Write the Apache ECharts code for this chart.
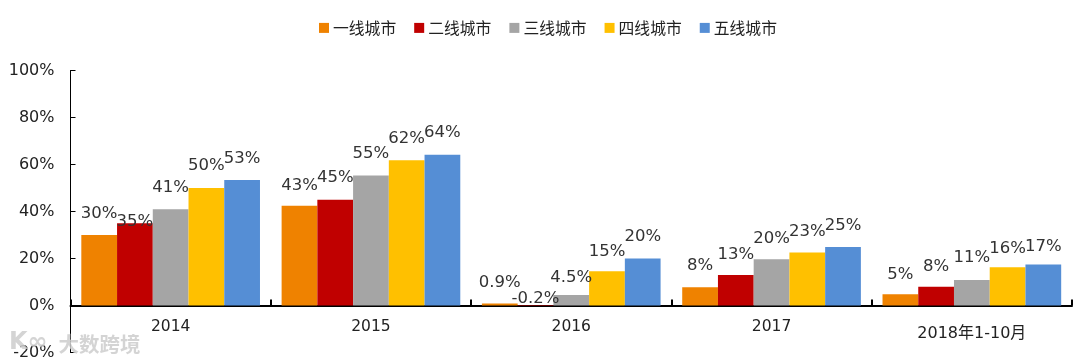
<!DOCTYPE html>
<html><head><meta charset="utf-8">
<style>html,body{margin:0;padding:0;background:#fff}#c{width:1080px;height:364px}</style>
<script src="https://cdn.jsdelivr.net/npm/echarts@6/dist/echarts.min.js"></script>
</head><body><div id="c"></div>
<script>
const categories = ['2014','2015','2016','2017','2018年1-10月'];
const seriesNames = ['一线城市','二线城市','三线城市','四线城市','五线城市'];
const tier1 = [30,42.5,0.9,7.8,4.8];
const tier2 = [35,45,-0.2,13,8];
const tier3 = [41,55.3,4.5,19.7,10.8];
const tier4 = [50,61.8,14.6,22.6,16.3];
const tier5 = [53.4,64.2,20,24.9,17.5];
const tier1Labels = ['30%','43%','0.9%','8%','5%'];
const tier2Labels = ['35%','45%','-0.2%','13%','8%'];
const tier3Labels = ['41%','55%','4.5%','20%','11%'];
const tier4Labels = ['50%','62%','15%','23%','16%'];
const tier5Labels = ['53%','64%','20%','25%','17%'];
const colors = ['#EF8200','#C00000','#A5A5A5','#FFC000','#558ED5'];
const nudges = [
 [0,2,1,0,2],
 [20,-1,15,1,2],
 [0,0,4,1,-1],
 [-1,0,2,1,3],
 [0,0,0,0,4]
];
const allVals=[tier1,tier2,tier3,tier4,tier5], allLabs=[tier1Labels,tier2Labels,tier3Labels,tier4Labels,tier5Labels];
const font='"DejaVu Sans", Verdana, sans-serif';
const chart=echarts.init(document.getElementById('c'),null,{renderer:'canvas'});
chart.setOption({
 animation:false,
 backgroundColor:'#fff',
 legend:{left:314,top:15,itemWidth:10,itemHeight:10,itemGap:18,icon:'rect',
  textStyle:{fontFamily:'"Noto Sans CJK SC"',fontSize:15.8,color:'#222',padding:[0,0,0,-1]},
  data:seriesNames},
 grid:{left:70.5,right:8,top:70.5,bottom:11.5,containLabel:false,outerBoundsMode:'none'},
 xAxis:{type:'category',data:categories,
  axisLine:{onZero:true,lineStyle:{color:'#000',width:2}},
  axisTick:{show:true,inside:true,length:6,lineStyle:{color:'#000',width:2}},
  axisLabel:{margin:-34,fontFamily:font,fontSize:15.5,color:'#222',
   formatter:(v,i)=>i===4?'{l|'+v+'}':v,rich:{l:{fontFamily:'"DejaVu Sans", "Noto Sans CJK SC"',fontSize:16,color:'#222',padding:[7,0,0,0]}}}},
 yAxis:{type:'value',min:-20,max:100,interval:20,
  axisLine:{show:true,lineStyle:{color:'#000',width:1}},
  axisTick:{show:true,inside:true,length:5,lineStyle:{color:'#000',width:1}},
  splitLine:{show:false},
  axisLabel:{margin:16,fontFamily:font,fontSize:16,color:'#222',formatter:v=>v+'%'}},
 series:seriesNames.map((n,s)=>({
  name:n,type:'bar',barGap:'0%',barCategoryGap:'10.8%',
  itemStyle:{color:colors[s]},
  data:allVals[s].map((v,i)=>({value:v,label:{offset:[0,nudges[s][i]]}})),
  label:{show:true,position:'top',distance:13,fontFamily:font,fontSize:16.5,color:'#333',
   formatter:p=>allLabs[s][p.dataIndex]}
 })),
 graphic:[{type:'text',left:58,top:333,silent:true,z:100,
  style:{text:'大数跨境',fontFamily:'"Noto Sans CJK SC"',fontSize:20.5,fontWeight:'bold',fill:'rgba(205,205,205,0.85)',stroke:'rgba(255,255,255,0.6)',lineWidth:1}},
  {type:'text',left:9,top:331,silent:true,z:100,
  style:{text:'K∞',fontFamily:font,fontSize:24,fontWeight:'bold',fill:'rgba(205,205,205,0.85)'}}]
});
</script></body></html>
